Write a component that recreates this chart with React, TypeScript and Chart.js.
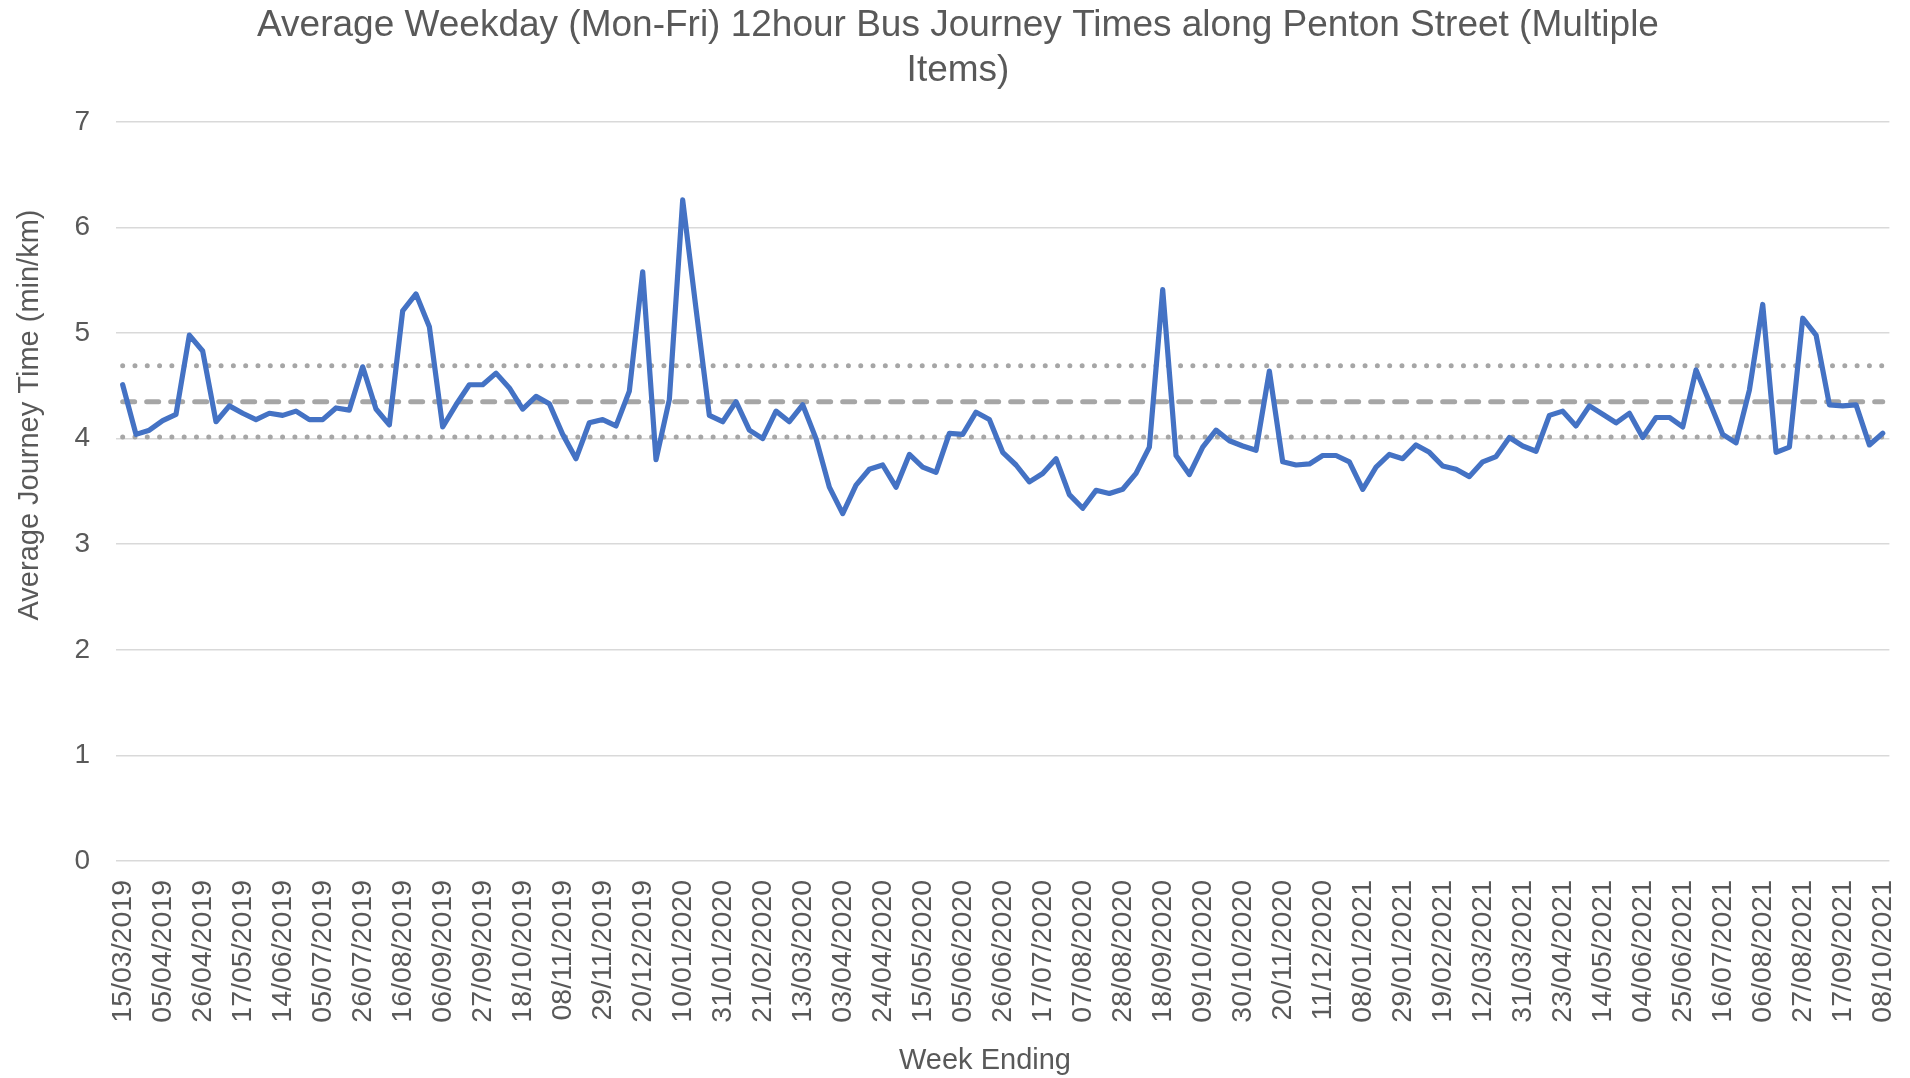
import React, { useEffect, useRef } from "react";
import { Chart, registerables } from "chart.js";

Chart.register(...registerables);

const TITLE_LINES = [
  "Average Weekday (Mon-Fri) 12hour Bus Journey Times along Penton Street (Multiple",
  "Items)",
];
const Y_TITLE = "Average Journey Time (min/km)";
const X_TITLE = "Week Ending";

const WEEK_ENDING = [
  "15/03/2019", "22/03/2019", "29/03/2019", "05/04/2019", "12/04/2019", "19/04/2019",
  "26/04/2019", "03/05/2019", "10/05/2019", "17/05/2019", "24/05/2019", "07/06/2019",
  "14/06/2019", "21/06/2019", "28/06/2019", "05/07/2019", "12/07/2019", "19/07/2019",
  "26/07/2019", "02/08/2019", "09/08/2019", "16/08/2019", "23/08/2019", "30/08/2019",
  "06/09/2019", "13/09/2019", "20/09/2019", "27/09/2019", "04/10/2019", "11/10/2019",
  "18/10/2019", "25/10/2019", "01/11/2019", "08/11/2019", "15/11/2019", "22/11/2019",
  "29/11/2019", "06/12/2019", "13/12/2019", "20/12/2019", "27/12/2019", "03/01/2020",
  "10/01/2020", "17/01/2020", "24/01/2020", "31/01/2020", "07/02/2020", "14/02/2020",
  "21/02/2020", "28/02/2020", "06/03/2020", "13/03/2020", "20/03/2020", "27/03/2020",
  "03/04/2020", "10/04/2020", "17/04/2020", "24/04/2020", "01/05/2020", "08/05/2020",
  "15/05/2020", "22/05/2020", "29/05/2020", "05/06/2020", "12/06/2020", "19/06/2020",
  "26/06/2020", "03/07/2020", "10/07/2020", "17/07/2020", "24/07/2020", "31/07/2020",
  "07/08/2020", "14/08/2020", "21/08/2020", "28/08/2020", "04/09/2020", "11/09/2020",
  "18/09/2020", "25/09/2020", "02/10/2020", "09/10/2020", "16/10/2020", "23/10/2020",
  "30/10/2020", "06/11/2020", "13/11/2020", "20/11/2020", "27/11/2020", "04/12/2020",
  "11/12/2020", "18/12/2020", "25/12/2020", "08/01/2021", "15/01/2021", "22/01/2021",
  "29/01/2021", "05/02/2021", "12/02/2021", "19/02/2021", "26/02/2021", "05/03/2021",
  "12/03/2021", "19/03/2021", "26/03/2021", "31/03/2021", "09/04/2021", "16/04/2021",
  "23/04/2021", "30/04/2021", "07/05/2021", "14/05/2021", "21/05/2021", "28/05/2021",
  "04/06/2021", "11/06/2021", "18/06/2021", "25/06/2021", "02/07/2021", "09/07/2021",
  "16/07/2021", "23/07/2021", "30/07/2021", "06/08/2021", "13/08/2021", "20/08/2021",
  "27/08/2021", "03/09/2021", "10/09/2021", "17/09/2021", "24/09/2021", "01/10/2021",
  "08/10/2021",
];

const JOURNEY_TIME = [
  4.51, 4.04, 4.08, 4.17, 4.23, 4.98, 4.83, 4.16, 4.31, 4.24,
  4.18, 4.24, 4.22, 4.26, 4.18, 4.18, 4.29, 4.27, 4.68, 4.28,
  4.13, 5.21, 5.37, 5.06, 4.11, 4.32, 4.51, 4.51, 4.62, 4.48,
  4.28, 4.40, 4.33, 4.04, 3.81, 4.15, 4.18, 4.12, 4.45, 5.58,
  3.80, 4.37, 6.26, 5.23, 4.22, 4.16, 4.35, 4.08, 4.00, 4.26,
  4.16, 4.32, 4.00, 3.54, 3.29, 3.56, 3.71, 3.75, 3.54, 3.85,
  3.73, 3.68, 4.05, 4.04, 4.25, 4.18, 3.87, 3.75, 3.59, 3.67,
  3.81, 3.47, 3.34, 3.51, 3.48, 3.52, 3.67, 3.92, 5.41, 3.84,
  3.66, 3.92, 4.08, 3.98, 3.93, 3.89, 4.64, 3.78, 3.75, 3.76,
  3.84, 3.84, 3.78, 3.52, 3.73, 3.85, 3.81, 3.94, 3.87, 3.74,
  3.71, 3.64, 3.78, 3.83, 4.01, 3.93, 3.88, 4.22, 4.26, 4.12,
  4.31, 4.23, 4.15, 4.24, 4.01, 4.20, 4.20, 4.11, 4.65, 4.35,
  4.04, 3.96, 4.46, 5.27, 3.87, 3.92, 5.14, 4.98, 4.32, 4.31,
  4.32, 3.94, 4.05,
];

const MEAN_VALUE = 4.35;
const UPPER_VALUE = 4.69;
const LOWER_VALUE = 4.015;

const Y_MIN = 0;
const Y_MAX = 7;
const Y_STEP = 1;
const LABEL_EVERY = 3;

const FONT = "'Liberation Sans', Arial, sans-serif";
const TEXT_COLOR = "#595959";

const axisTitles = {
  id: "axisTitles",
  afterDraw(chart: any) {
    const ctx = chart.ctx;
    ctx.save();
    ctx.fillStyle = TEXT_COLOR;
    ctx.font = `29px ${FONT}`;
    ctx.textAlign = "center";
    ctx.textBaseline = "middle";
    ctx.save();
    ctx.translate(30, 415);
    ctx.rotate(-Math.PI / 2);
    ctx.fillText(Y_TITLE, 0, 0);
    ctx.restore();
    ctx.fillText(X_TITLE, 985, 1061);
    ctx.restore();
  },
};

export default function App() {
  const ref = useRef<HTMLCanvasElement | null>(null);

  useEffect(() => {
    if (!ref.current) return;
    const constLine = (v: number) => WEEK_ENDING.map(() => v);
    const chart = new Chart(ref.current, {
      type: "line",
      data: {
        labels: WEEK_ENDING,
        datasets: [
          {
            label: "Journey time",
            data: JOURNEY_TIME,
            borderColor: "#4472C4",
            borderWidth: 5.2,
            pointRadius: 0,
            tension: 0,
            fill: false,
            borderJoinStyle: "round",
            borderCapStyle: "round",
          },
          {
            label: "Mean",
            data: constLine(MEAN_VALUE),
            borderColor: "#A6A6A6",
            borderWidth: 5,
            borderDash: [12, 12],
            borderCapStyle: "round",
            pointRadius: 0,
            fill: false,
          },
          {
            label: "Upper",
            data: constLine(UPPER_VALUE),
            borderColor: "#A6A6A6",
            borderWidth: 5,
            borderDash: [0.001, 12.3],
            borderCapStyle: "round",
            pointRadius: 0,
            fill: false,
          },
          {
            label: "Lower",
            data: constLine(LOWER_VALUE),
            borderColor: "#A6A6A6",
            borderWidth: 5,
            borderDash: [0.001, 12.3],
            borderCapStyle: "round",
            pointRadius: 0,
            fill: false,
          },
        ],
      },
      options: {
        animation: false,
        responsive: false,
        devicePixelRatio: 1,
        layout: { padding: { left: 26.6, right: 20.6, top: 0, bottom: 0 } },
        plugins: {
          legend: { display: false },
          tooltip: { enabled: false },
          title: {
            display: true,
            text: TITLE_LINES,
            color: TEXT_COLOR,
            font: { family: FONT, size: 37, weight: "normal", lineHeight: 1.2 },
            padding: { top: 4, bottom: 29 },
          },
        },
        scales: {
          x: {
            type: "category",
            offset: true,
            grid: { display: false, drawTicks: false },
            border: { display: false },
            ticks: {
              autoSkip: false,
              maxRotation: 90,
              minRotation: 90,
              padding: 19,
              color: TEXT_COLOR,
              font: { family: FONT, size: 28.5 },
              callback: function (this: any, value: any, index: number) {
                return index % LABEL_EVERY === 0 ? this.getLabelForValue(value) : "";
              },
            },
            afterFit: (s: any) => {
              s.height = 217;
              s.paddingLeft = 0;
              s.paddingRight = 0;
            },
          },
          y: {
            min: Y_MIN,
            max: Y_MAX,
            ticks: {
              stepSize: Y_STEP,
              padding: 26,
              color: TEXT_COLOR,
              font: { family: FONT, size: 28 },
            },
            grid: { color: "#D9D9D9", lineWidth: 1.5, drawTicks: false },
            border: { display: false },
            afterFit: (s: any) => {
              s.width = 89.4;
            },
          },
        },
      },
      plugins: [axisTitles],
    });
    return () => chart.destroy();
  }, []);

  return (
    <div style={{ position: "fixed", left: 0, top: 0, width: 1910, height: 1078, background: "#fff" }}>
      <canvas ref={ref} width={1910} height={1078} style={{ width: 1910, height: 1078 }} />
    </div>
  );
}
